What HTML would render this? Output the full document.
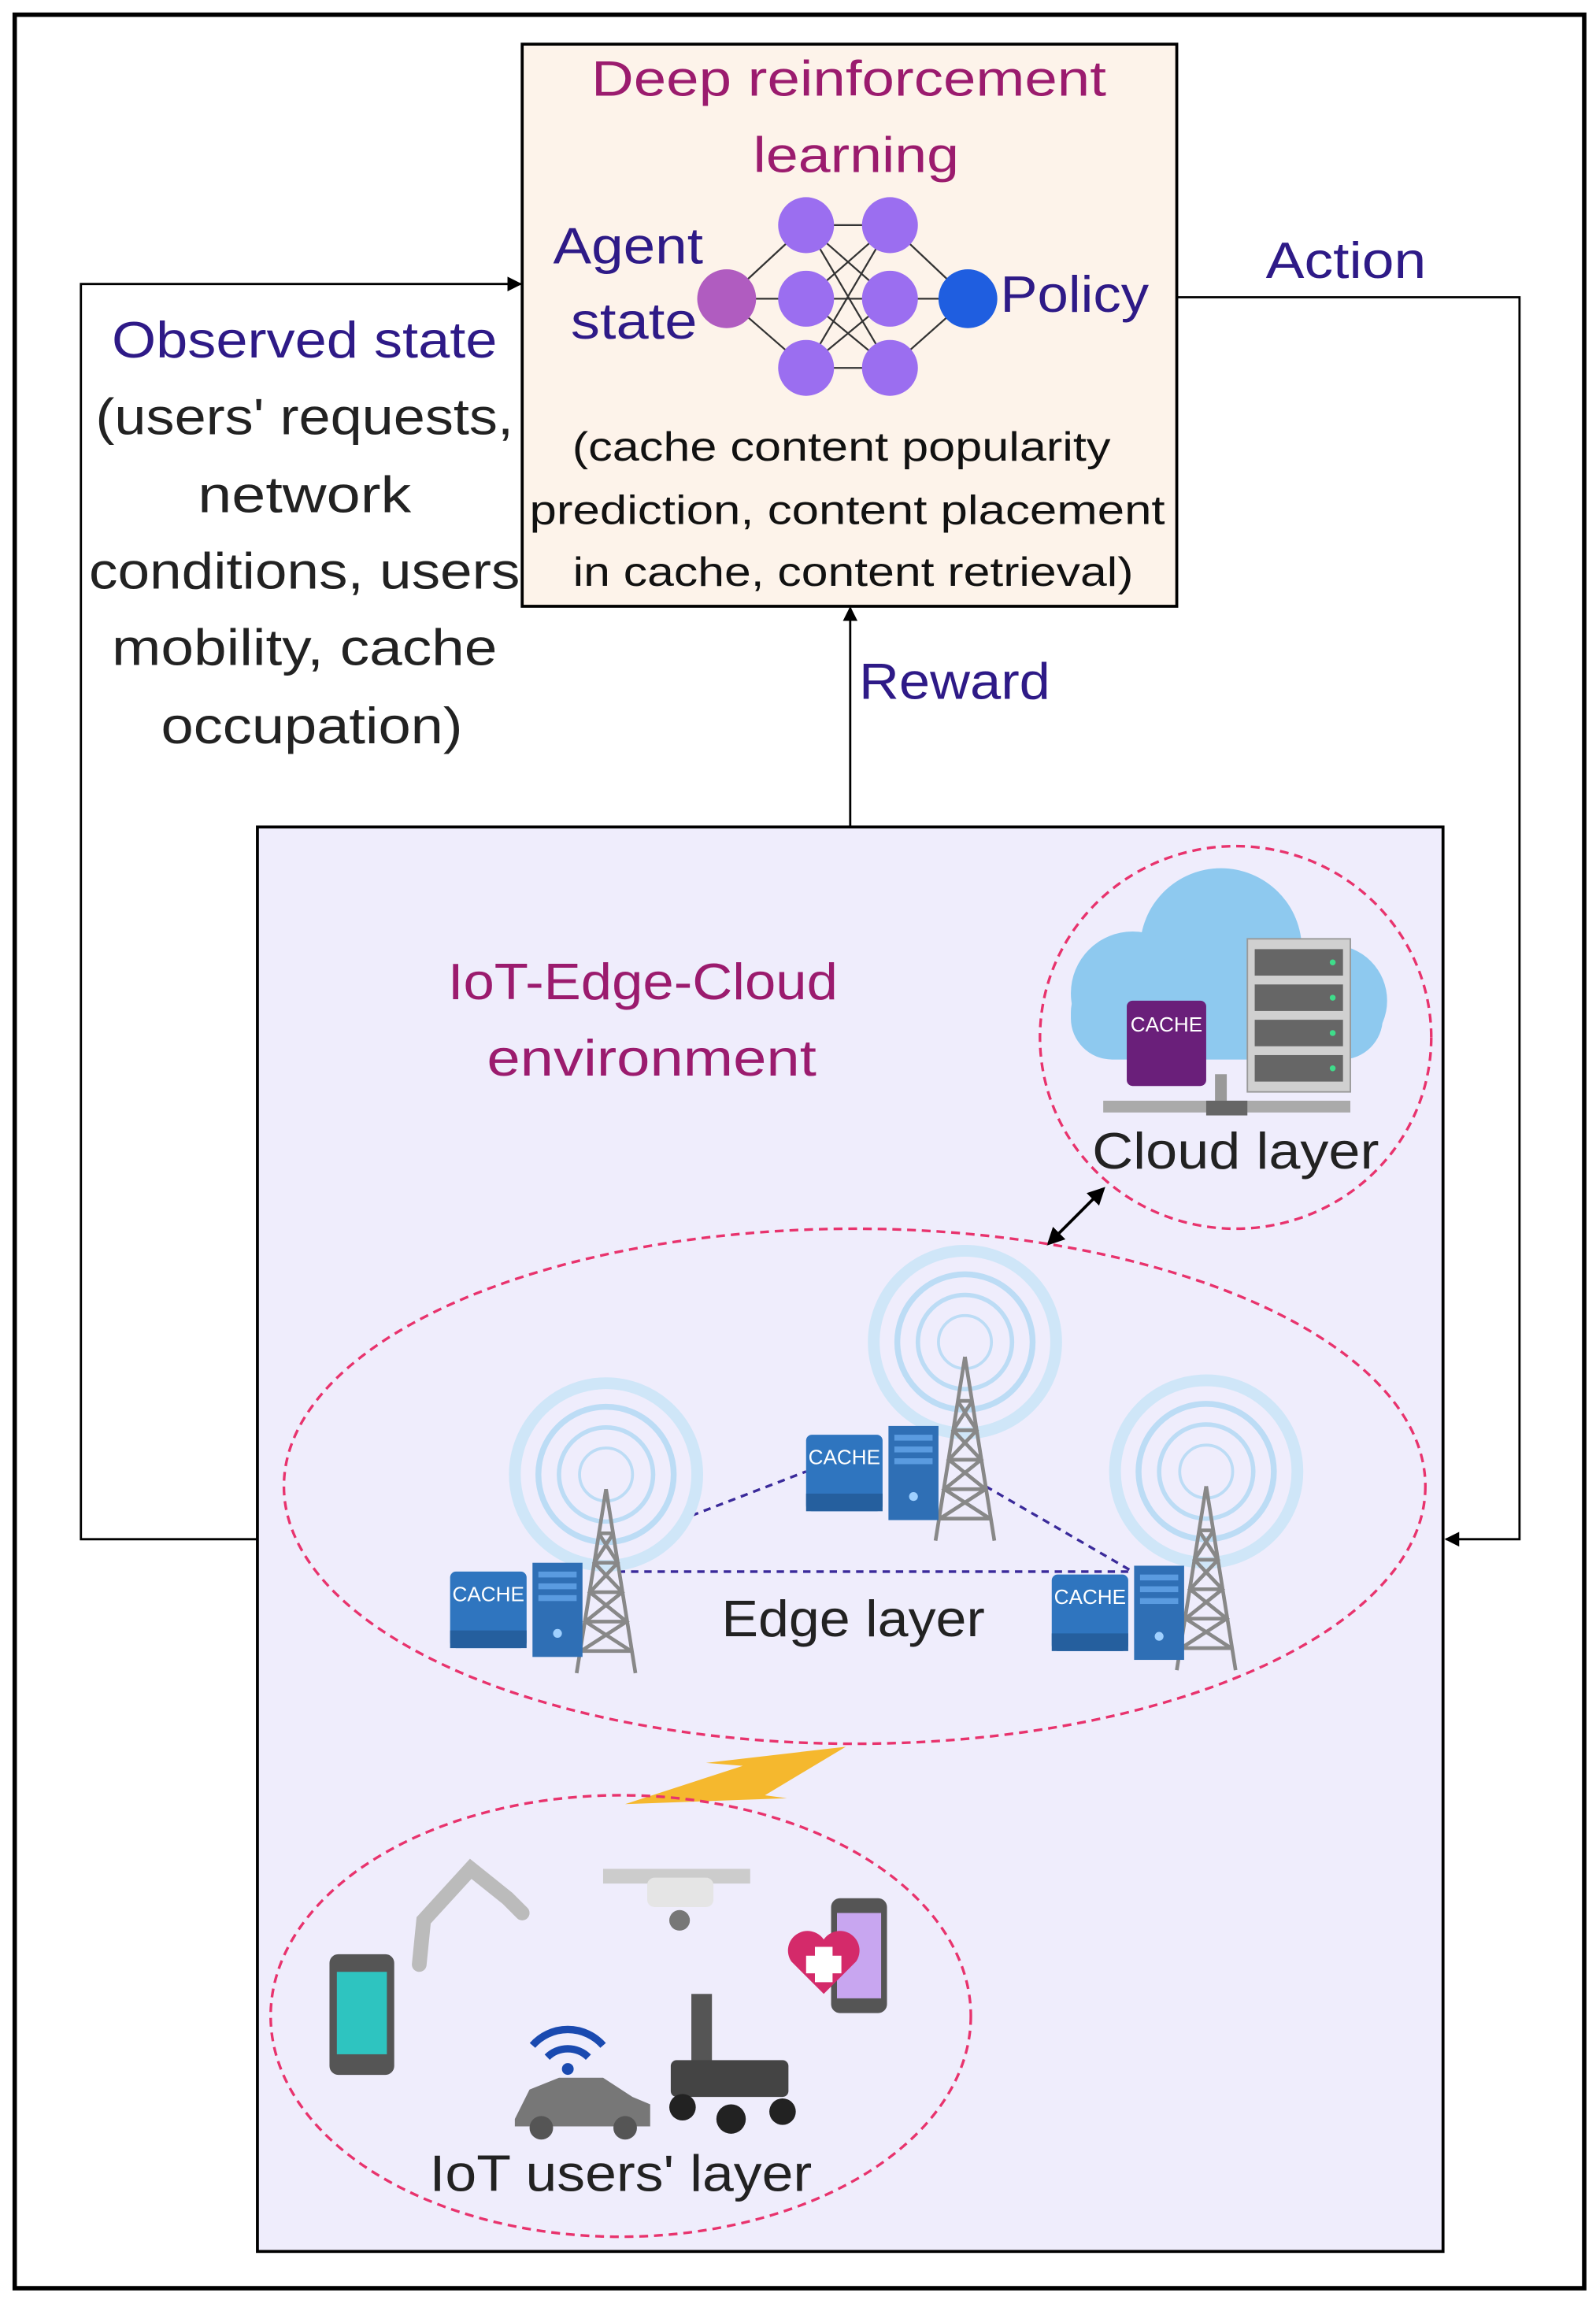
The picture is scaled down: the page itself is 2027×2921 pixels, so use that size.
<!DOCTYPE html>
<html><head><meta charset="utf-8"><style>
html,body{margin:0;padding:0;background:#fff}
svg{display:block}
text{font-family:"Liberation Sans",sans-serif}
</style></head><body>
<svg width="2027" height="2921" viewBox="0 0 1085 1563" preserveAspectRatio="none" xmlns="http://www.w3.org/2000/svg">
<defs>
<marker id="ar" markerWidth="10" markerHeight="10" refX="9" refY="5" orient="auto" markerUnits="userSpaceOnUse"><path d="M0,0 L10,5 L0,10 z" fill="#000"/></marker>
<marker id="ar2" markerWidth="12" markerHeight="12" refX="10" refY="6" orient="auto-start-reverse" markerUnits="userSpaceOnUse"><path d="M0,0 L12,6 L0,12 z" fill="#000"/></marker>
<g id="tower">
<circle cx="0" cy="0" r="62" fill="none" stroke="#cfe6f8" stroke-width="8"/>
<circle cx="0" cy="0" r="46" fill="none" stroke="#bcdcf5" stroke-width="4"/>
<circle cx="0" cy="0" r="32" fill="none" stroke="#bcdcf5" stroke-width="3"/>
<circle cx="0" cy="0" r="18" fill="none" stroke="#bcdcf5" stroke-width="2"/>
<path d="M0,10 L-20,135 M0,10 L20,135 M-5,40 L5,40 M-8,60 L8,60 M-11,80 L11,80 M-14,100 L14,100 M-17,120 L17,120 M-5,40 L8,60 L-11,80 L14,100 L-17,120 M5,40 L-8,60 L11,80 L-14,100 L17,120" stroke="#888" stroke-width="2.5" fill="none"/>
</g>
<g id="srv">
<rect x="0" y="0" width="52" height="52" rx="4" fill="#2f75bf"/>
<rect x="0" y="40" width="52" height="12" fill="#255f9e"/>
<text x="26" y="20" font-size="14" fill="#fff" text-anchor="middle">CACHE</text>
<rect x="56" y="-6" width="34" height="64" fill="#2f6fb5"/>
<rect x="60" y="0" width="26" height="4" fill="#5a9be0"/><rect x="60" y="8" width="26" height="4" fill="#5a9be0"/><rect x="60" y="16" width="26" height="4" fill="#5a9be0"/>
<circle cx="73" cy="42" r="3" fill="#9fd0ff"/>
</g>
</defs>
<rect x="10" y="10" width="1067" height="1545" fill="#fff" stroke="#000" stroke-width="3"/>
<rect x="355" y="30" width="445" height="382" fill="#fdf3ea" stroke="#000" stroke-width="2"/>
<g font-size="34" fill="#9b1b6e" text-anchor="middle" lengthAdjust="spacingAndGlyphs">
<text x="577" y="65" textLength="350" lengthAdjust="spacingAndGlyphs">Deep reinforcement</text>
<text x="582" y="117" textLength="140" lengthAdjust="spacingAndGlyphs">learning</text>
</g>
<g stroke="#333" stroke-width="1.2">
<line x1="494" y1="203" x2="548" y2="153"/><line x1="494" y1="203" x2="548" y2="203"/><line x1="494" y1="203" x2="548" y2="250"/>
<line x1="548" y1="153" x2="605" y2="153"/><line x1="548" y1="153" x2="605" y2="203"/><line x1="548" y1="153" x2="605" y2="250"/>
<line x1="548" y1="203" x2="605" y2="153"/><line x1="548" y1="203" x2="605" y2="203"/><line x1="548" y1="203" x2="605" y2="250"/>
<line x1="548" y1="250" x2="605" y2="153"/><line x1="548" y1="250" x2="605" y2="203"/><line x1="548" y1="250" x2="605" y2="250"/>
<line x1="605" y1="153" x2="658" y2="203"/><line x1="605" y1="203" x2="658" y2="203"/><line x1="605" y1="250" x2="658" y2="203"/>
</g>
<circle cx="494" cy="203" r="20" fill="#b05cc0"/>
<g fill="#9b6ef0"><circle cx="548" cy="153" r="19"/><circle cx="548" cy="203" r="19"/><circle cx="548" cy="250" r="19"/><circle cx="605" cy="153" r="19"/><circle cx="605" cy="203" r="19"/><circle cx="605" cy="250" r="19"/></g>
<circle cx="658" cy="203" r="20" fill="#1f5ee0"/>
<g font-size="35" fill="#2e1a87">
<text x="427" y="179" text-anchor="middle" textLength="102" lengthAdjust="spacingAndGlyphs">Agent</text>
<text x="431" y="230" text-anchor="middle" textLength="86" lengthAdjust="spacingAndGlyphs">state</text>
<text x="680" y="212" textLength="101" lengthAdjust="spacingAndGlyphs">Policy</text>
<text x="915" y="189" text-anchor="middle" textLength="109" lengthAdjust="spacingAndGlyphs">Action</text>
<text x="649" y="475" text-anchor="middle" textLength="130" lengthAdjust="spacingAndGlyphs">Reward</text>
<text x="207" y="243" text-anchor="middle" textLength="262" lengthAdjust="spacingAndGlyphs">Observed state</text>
</g>
<g font-size="28" fill="#111" text-anchor="middle">
<text x="572" y="313" textLength="366" lengthAdjust="spacingAndGlyphs">(cache content popularity</text>
<text x="576" y="356" textLength="432" lengthAdjust="spacingAndGlyphs">prediction, content placement</text>
<text x="580" y="398" textLength="381" lengthAdjust="spacingAndGlyphs">in cache, content retrieval)</text>
</g>
<g font-size="35" fill="#222" text-anchor="middle">
<text x="207" y="295" textLength="284" lengthAdjust="spacingAndGlyphs">(users' requests,</text>
<text x="207" y="348" textLength="145" lengthAdjust="spacingAndGlyphs">network</text>
<text x="207" y="400" textLength="293" lengthAdjust="spacingAndGlyphs">conditions, users</text>
<text x="207" y="452" textLength="262" lengthAdjust="spacingAndGlyphs">mobility, cache</text>
<text x="212" y="505" textLength="205" lengthAdjust="spacingAndGlyphs">occupation)</text>
</g>
<polyline points="800,202 1033,202 1033,1046 983,1046" fill="none" stroke="#000" stroke-width="1.5" marker-end="url(#ar)"/>
<polyline points="175,1046 55,1046 55,193 354,193" fill="none" stroke="#000" stroke-width="1.5" marker-end="url(#ar)"/>
<line x1="578" y1="562" x2="578" y2="413" stroke="#000" stroke-width="1.5" marker-end="url(#ar)"/>
<rect x="175" y="562" width="806" height="968" fill="#efedfc" stroke="#000" stroke-width="2"/>
<g font-size="35" fill="#9b1b6e" text-anchor="middle">
<text x="437" y="679" textLength="265" lengthAdjust="spacingAndGlyphs">IoT-Edge-Cloud</text>
<text x="443" y="731" textLength="224" lengthAdjust="spacingAndGlyphs">environment</text>
</g>
<ellipse cx="840" cy="705" rx="133" ry="130" fill="none" stroke="#e8336d" stroke-width="1.8" stroke-dasharray="6,4"/>
<g fill="#8ec9ef">
<circle cx="830" cy="645" r="55"/><circle cx="770" cy="675" r="42"/><circle cx="905" cy="680" r="38"/>
<rect x="728" y="660" width="212" height="60" rx="28"/>
</g>
<rect x="750" y="748" width="168" height="8" fill="#aaa"/>
<rect x="826" y="730" width="8" height="24" fill="#999"/>
<rect x="820" y="748" width="28" height="10" fill="#666"/>
<rect x="848" y="638" width="70" height="104" fill="#d0d0d0" stroke="#999"/>
<g fill="#666"><rect x="853" y="645" width="60" height="18"/><rect x="853" y="669" width="60" height="18"/><rect x="853" y="693" width="60" height="18"/><rect x="853" y="717" width="60" height="18"/></g>
<g fill="#3fdc8a"><circle cx="906" cy="654" r="2"/><circle cx="906" cy="678" r="2"/><circle cx="906" cy="702" r="2"/><circle cx="906" cy="726" r="2"/></g>
<rect x="766" y="680" width="54" height="58" rx="4" fill="#6a1f7a"/>
<text x="793" y="701" font-size="14" fill="#fff" text-anchor="middle">CACHE</text>
<text x="840" y="794" font-size="35" fill="#222" text-anchor="middle" textLength="195" lengthAdjust="spacingAndGlyphs">Cloud layer</text>
<line x1="713" y1="845" x2="750" y2="808" stroke="#000" stroke-width="2" marker-start="url(#ar2)" marker-end="url(#ar2)"/>
<ellipse cx="581" cy="1010" rx="388" ry="175" fill="none" stroke="#e8336d" stroke-width="1.8" stroke-dasharray="6,4"/>
<g stroke="#3a2a9a" stroke-width="1.8" stroke-dasharray="5,4">
<line x1="470" y1="1030" x2="548" y2="1000"/>
<line x1="420" y1="1068" x2="770" y2="1068"/>
<line x1="670" y1="1010" x2="770" y2="1068"/>
</g>
<use href="#tower" x="656" y="912"/>
<use href="#tower" x="412" y="1002"/>
<use href="#tower" x="820" y="1000"/>
<use href="#srv" x="548" y="975"/>
<use href="#srv" x="306" y="1068"/>
<use href="#srv" x="715" y="1070"/>
<text x="580" y="1112" font-size="35" fill="#222" text-anchor="middle" textLength="179" lengthAdjust="spacingAndGlyphs">Edge layer</text>
<path d="M425,1226 L505,1200 L480,1198 L575,1187 L520,1220 L535,1222 Z" fill="#f5b82e"/>
<ellipse cx="422" cy="1370" rx="238" ry="150" fill="none" stroke="#e8336d" stroke-width="1.8" stroke-dasharray="6,4"/>
<rect x="224" y="1328" width="44" height="82" rx="6" fill="#555"/><rect x="229" y="1340" width="34" height="56" fill="#2ec4c0"/>
<rect x="565" y="1290" width="38" height="78" rx="6" fill="#555"/><rect x="569" y="1300" width="30" height="58" fill="#c8a6f0"/>
<path d="M560,1355 L538,1333 A12,12 0 0 1 560,1318 A12,12 0 0 1 582,1333 Z" fill="#d42a6a"/>
<path d="M554,1323 h12 v6 h6 v12 h-6 v6 h-12 v-6 h-6 v-12 h6z" fill="#fff"/>
<path d="M285,1335 L288,1305 L320,1270 L345,1290 L355,1300" stroke="#bbb" stroke-width="10" fill="none" stroke-linecap="round"/>
<rect x="410" y="1270" width="100" height="10" fill="#ccc"/><rect x="440" y="1276" width="45" height="20" rx="5" fill="#e5e5e5"/><circle cx="462" cy="1305" r="7" fill="#777"/>
<path d="M350,1440 L360,1420 L380,1412 L410,1412 L430,1425 L442,1430 L442,1445 L350,1445 Z" fill="#777"/>
<circle cx="368" cy="1446" r="8" fill="#555"/><circle cx="425" cy="1446" r="8" fill="#555"/>
<path d="M362,1390 A32,32 0 0 1 410,1390 M372,1398 A20,20 0 0 1 400,1398" stroke="#1a4ab0" stroke-width="5" fill="none"/><circle cx="386" cy="1406" r="4" fill="#1a4ab0"/>
<rect x="470" y="1355" width="14" height="50" fill="#555"/><rect x="456" y="1400" width="80" height="25" rx="4" fill="#444"/>
<circle cx="464" cy="1432" r="9" fill="#222"/><circle cx="497" cy="1440" r="10" fill="#222"/><circle cx="532" cy="1435" r="9" fill="#222"/>
<text x="422" y="1489" font-size="35" fill="#222" text-anchor="middle" textLength="260" lengthAdjust="spacingAndGlyphs">IoT users' layer</text>
</svg>
</body></html>
